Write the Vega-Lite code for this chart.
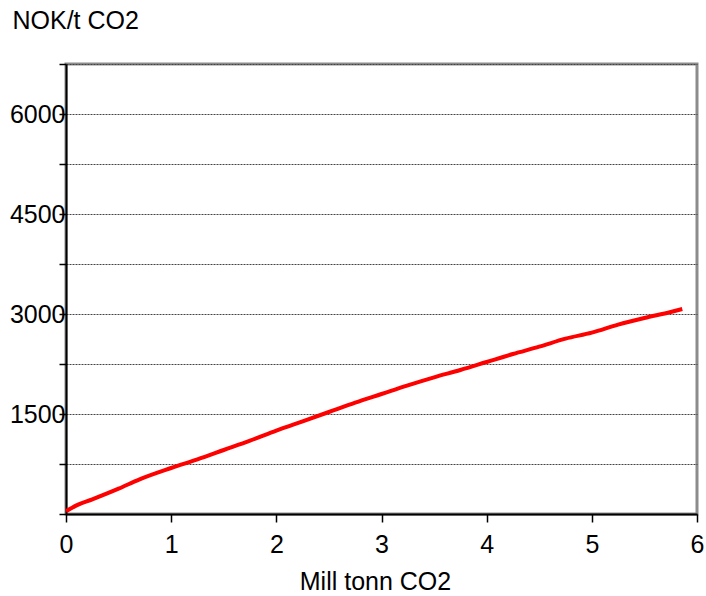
{
  "$schema": "https://vega.github.io/schema/vega-lite/v6.json",
  "width": 631,
  "height": 450,
  "autosize": {"type": "none"},
  "padding": {"left": 66, "top": 64, "right": 9, "bottom": 82},
  "background": "white",
  "config": {
    "view": {"stroke": "#8c8c8c", "strokeWidth": 3},
    "font": "Liberation Sans"
  },
  "data": {
    "values": [
      {"x": 0, "y": 40},
      {"x": 0.1, "y": 130},
      {"x": 0.25, "y": 220},
      {"x": 0.5, "y": 380},
      {"x": 0.7, "y": 520},
      {"x": 1.0, "y": 690},
      {"x": 1.25, "y": 820},
      {"x": 1.5, "y": 960},
      {"x": 1.75, "y": 1100},
      {"x": 2.0, "y": 1250},
      {"x": 2.25, "y": 1390},
      {"x": 2.5, "y": 1530},
      {"x": 2.75, "y": 1670},
      {"x": 3.0, "y": 1800},
      {"x": 3.25, "y": 1930},
      {"x": 3.5, "y": 2050},
      {"x": 3.75, "y": 2160},
      {"x": 4.0, "y": 2280},
      {"x": 4.25, "y": 2400},
      {"x": 4.5, "y": 2510},
      {"x": 4.75, "y": 2630},
      {"x": 5.0, "y": 2720},
      {"x": 5.25, "y": 2840},
      {"x": 5.5, "y": 2940},
      {"x": 5.75, "y": 3030},
      {"x": 5.86, "y": 3075}
    ]
  },
  "mark": {"type": "line", "color": "#ff0000", "strokeWidth": 4, "interpolate": "monotone"},
  "encoding": {
    "x": {
      "field": "x",
      "type": "quantitative",
      "scale": {"domain": [0, 6], "nice": false, "zero": false},
      "axis": {
        "values": [0, 1, 2, 3, 4, 5, 6],
        "grid": false,
        "domainColor": "black",
        "domainWidth": 2,
        "tickColor": "black",
        "tickWidth": 1.5,
        "tickSize": 8,
        "labelFontSize": 25,
        "labelColor": "black",
        "labelPadding": 10,
        "labelFont": "Liberation Sans",
        "labelFlush": false,
        "title": "Mill tonn CO2",
        "titleFontSize": 25,
        "titleFontWeight": "normal",
        "titleColor": "black",
        "titleFont": "Liberation Sans",
        "titleX": 309,
        "titleY": 67,
        "titleBaseline": "middle",
        "titleAnchor": "middle",
        "titleAlign": "center"
      }
    },
    "y": {
      "field": "y",
      "type": "quantitative",
      "scale": {"domain": [0, 6750], "nice": false},
      "axis": {
        "values": [0, 750, 1500, 2250, 3000, 3750, 4500, 5250, 6000, 6750],
        "labelExpr": "(datum.value % 1500 == 0 && datum.value > 0 && datum.value < 6750) ? datum.value : ''",
        "grid": true,
        "gridColor": "#444",
        "gridDash": [2, 1],
        "gridWidth": 1,
        "domainColor": "black",
        "domainWidth": 2,
        "tickColor": "black",
        "tickWidth": 1.5,
        "tickSize": 7,
        "labelPadding": -6,
        "labelFontSize": 25,
        "labelColor": "black",
        "labelFont": "Liberation Sans",
        "labelFlush": false,
        "labelBaseline": "middle",
        "title": "NOK/t CO2",
        "titleAngle": 0,
        "titleFontSize": 25,
        "titleFontWeight": "normal",
        "titleColor": "black",
        "titleFont": "Liberation Sans",
        "titleX": -54,
        "titleY": -44,
        "titleAlign": "left",
        "titleBaseline": "middle"
      }
    }
  }
}
